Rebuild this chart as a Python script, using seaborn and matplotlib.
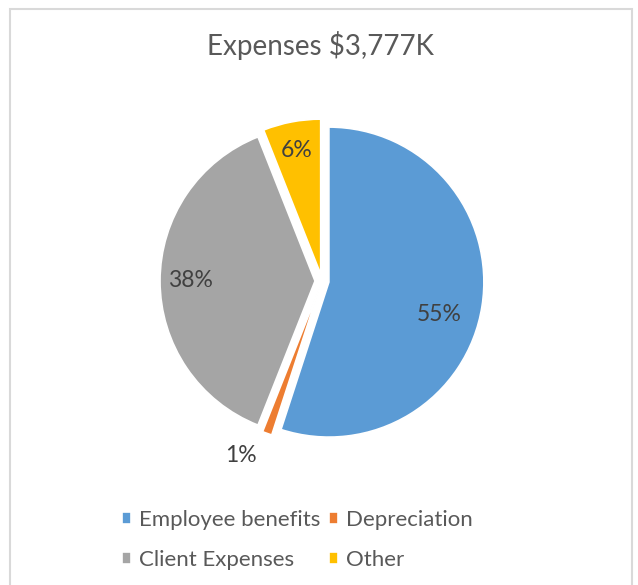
import numpy as np
import matplotlib
matplotlib.use("Agg")
import matplotlib.pyplot as plt
from matplotlib.patches import Rectangle
import seaborn as sns

# данные
categories = ["Employee benefits", "Depreciation", "Client Expenses", "Other"]
shares = [55, 1, 38, 6]
colors = ["#5B9BD5", "#ED7D31", "#A5A5A5", "#FFC000"]
title = "Expenses $3,777K"

# расположение подписей (радиус и сдвиг угла от биссектрисы сектора)
label_r = [0.79, 1.24, 0.85, 0.86]
label_shift = [-7, -5, 0, 0]

sns.set_theme(style="white")
plt.rcParams["font.family"] = ["Lato", "DejaVu Sans"]
text_color = "#595959"

W, H = 638, 585
fig = plt.figure(figsize=(W / 100, H / 100), dpi=100)

# рамка области диаграммы как в Excel
fig.patches.append(Rectangle((10 / W, -0.1), 622 / W, 576 / H + 0.1,
                             transform=fig.transFigure, fill=False,
                             edgecolor="#D9D9D9", linewidth=1.5))

# оси: центр круга (322, 281) px, радиус 155 px
R = 155
lim = 1.3
side = 2 * lim * R
cx, cy = 322, 281
ax = fig.add_axes([(cx - side / 2) / W, (H - cy - side / 2) / H, side / W, side / H])

wedges, _ = ax.pie(shares, colors=colors, startangle=90, counterclock=False,
                   explode=[0.045] * len(shares),
                   wedgeprops=dict(edgecolor="white", linewidth=1.2))
ax.set_xlim(-lim, lim)
ax.set_ylim(-lim, lim)
ax.set_aspect("equal")
ax.axis("off")

for w, v, r, sh in zip(wedges, shares, label_r, label_shift):
    ang = np.deg2rad((w.theta1 + w.theta2) / 2 + sh)
    ax.text(r * np.cos(ang), r * np.sin(ang), f"{v}%", ha="center", va="center",
            fontsize=16.5, color="#404040")

fig.text(cx / W - 0.003, 1 - 45 / H, title, ha="center", va="center",
         fontsize=20, color=text_color)

# легенда заполняется по строкам, как в Excel
order = [0, 2, 1, 3]
fig.legend([wedges[i] for i in order], [categories[i] for i in order],
           ncol=2, loc="upper left",
           bbox_to_anchor=(102 / W, 1 - 490 / H), frameon=False,
           fontsize=16, labelcolor=text_color, handlelength=0.4, handleheight=0.4,
           handletextpad=0.35, columnspacing=0.4, labelspacing=0.9)

plt.savefig("out.png", dpi=100)
plt.close()
